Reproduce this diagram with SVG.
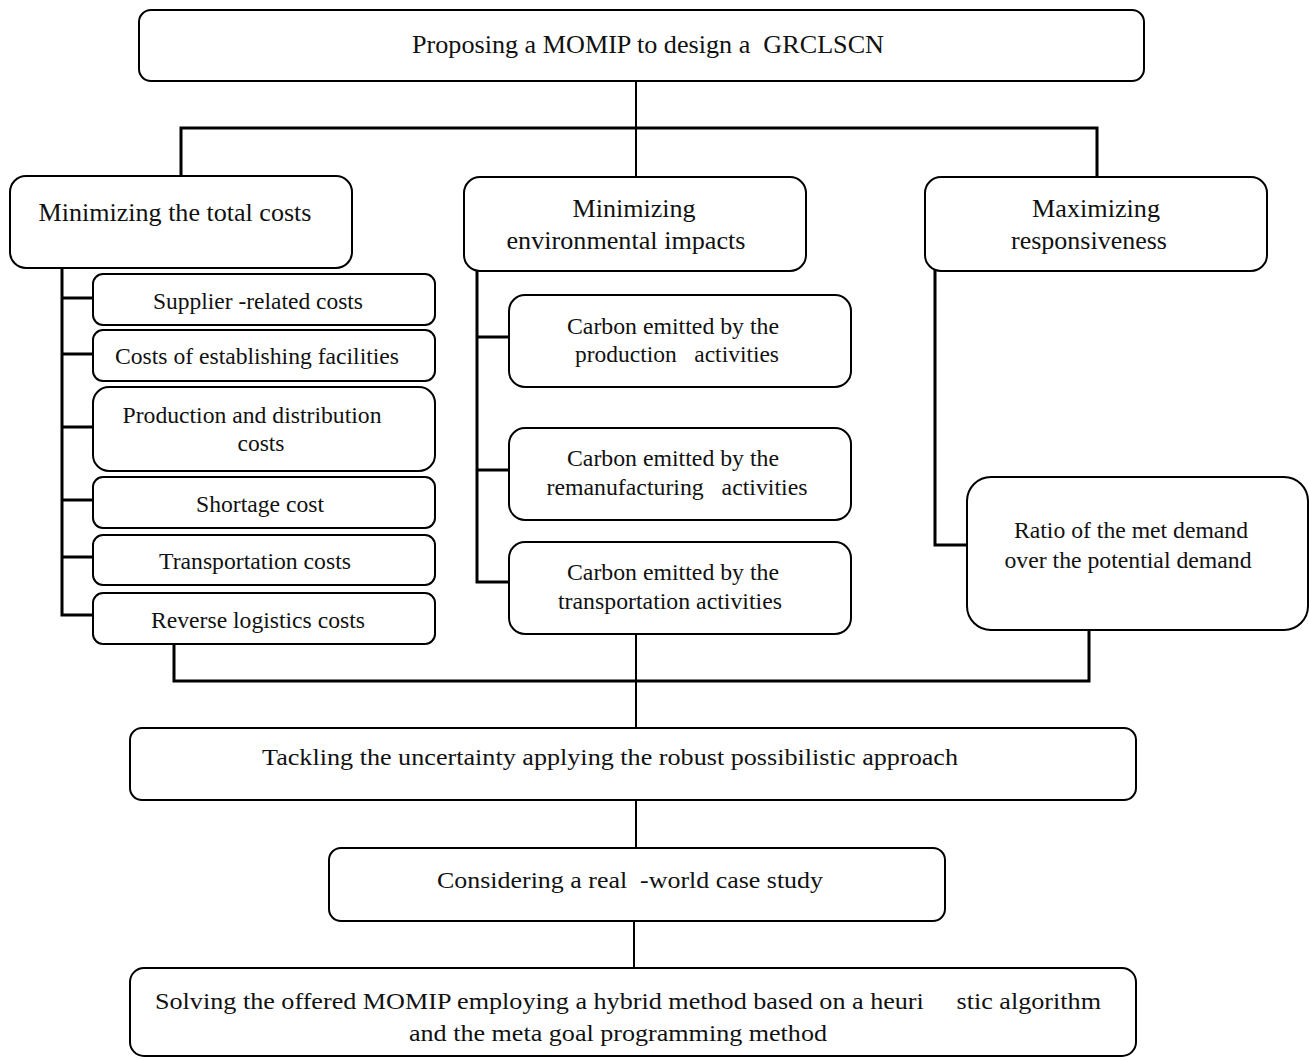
<svg xmlns="http://www.w3.org/2000/svg" width="1309" height="1060" viewBox="0 0 1309 1060">
<style>
.box{fill:#fff;stroke:#000;stroke-width:2}
.t{font-family:"Liberation Serif","Times New Roman",serif;fill:#111;text-anchor:middle;white-space:pre}
.h{font-size:26px}
.s{font-size:24px}
.c{fill:none;stroke:#000;stroke-width:3;stroke-linecap:square}
.c2{fill:none;stroke:#000;stroke-width:2}
</style>
<rect width="1309" height="1060" fill="#fff"/>
<g id="connectors">
<path class="c2" d="M636 81V128"/>
<path class="c" d="M181 176V128H1097V178"/>
<path class="c2" d="M636 128V178"/>
<path class="c" d="M62 268V615H93M62 298H93M62 354H93M62 427H93M62 500H93M62 557H93"/>
<path class="c" d="M477 271V582H509M477 337H509M477 470H509"/>
<path class="c" d="M935 271V545H967"/>
<path class="c" d="M174 644V681H1089V630"/>
<path class="c2" d="M636 634V728"/>
<path class="c2" d="M636 800V848"/>
<path class="c2" d="M634 921V968"/>
</g>
<g id="n-top"><rect class="box" x="139" y="10" width="1005" height="71" rx="12"/>
<text class="t h" x="648" y="53" textLength="472" lengthAdjust="spacingAndGlyphs">Proposing a MOMIP to design a  GRCLSCN</text></g>
<g id="n-cost"><rect class="box" x="10" y="176" width="342" height="92" rx="16"/>
<text class="t h" x="175" y="221" textLength="273" lengthAdjust="spacingAndGlyphs">Minimizing the total costs</text></g>
<g id="n-env"><rect class="box" x="464" y="177" width="342" height="94" rx="16"/>
<text class="t h" x="634" y="217" textLength="123" lengthAdjust="spacingAndGlyphs">Minimizing</text>
<text class="t h" x="626" y="249" textLength="239" lengthAdjust="spacingAndGlyphs">environmental impacts</text></g>
<g id="n-resp"><rect class="box" x="925" y="177" width="342" height="94" rx="16"/>
<text class="t h" x="1096" y="217" textLength="128" lengthAdjust="spacingAndGlyphs">Maximizing</text>
<text class="t h" x="1089" y="249" textLength="156" lengthAdjust="spacingAndGlyphs">responsiveness</text></g>
<g id="n-supplier"><rect class="box" x="93" y="274" width="342" height="51" rx="10"/>
<text class="t s" x="258" y="309" textLength="210" lengthAdjust="spacingAndGlyphs">Supplier -related costs</text></g>
<g id="n-establish"><rect class="box" x="93" y="330" width="342" height="51" rx="10"/>
<text class="t s" x="257" y="364" textLength="284" lengthAdjust="spacingAndGlyphs">Costs of establishing facilities</text></g>
<g id="n-production"><rect class="box" x="93" y="387" width="342" height="84" rx="16"/>
<text class="t s" x="252" y="423" textLength="259" lengthAdjust="spacingAndGlyphs">Production and distribution</text>
<text class="t s" x="261" y="451" textLength="47" lengthAdjust="spacingAndGlyphs">costs</text></g>
<g id="n-shortage"><rect class="box" x="93" y="477" width="342" height="51" rx="10"/>
<text class="t s" x="260" y="512" textLength="128" lengthAdjust="spacingAndGlyphs">Shortage cost</text></g>
<g id="n-transport"><rect class="box" x="93" y="535" width="342" height="50" rx="10"/>
<text class="t s" x="255" y="569" textLength="192" lengthAdjust="spacingAndGlyphs">Transportation costs</text></g>
<g id="n-reverse"><rect class="box" x="93" y="593" width="342" height="51" rx="10"/>
<text class="t s" x="258" y="628" textLength="214" lengthAdjust="spacingAndGlyphs">Reverse logistics costs</text></g>
<g id="n-cprod"><rect class="box" x="509" y="295" width="342" height="92" rx="16"/>
<text class="t s" x="673" y="334" textLength="212" lengthAdjust="spacingAndGlyphs">Carbon emitted by the</text>
<text class="t s" x="677" y="362" textLength="204" lengthAdjust="spacingAndGlyphs">production   activities</text></g>
<g id="n-creman"><rect class="box" x="509" y="428" width="342" height="92" rx="16"/>
<text class="t s" x="673" y="466" textLength="212" lengthAdjust="spacingAndGlyphs">Carbon emitted by the</text>
<text class="t s" x="677" y="495" textLength="261" lengthAdjust="spacingAndGlyphs">remanufacturing   activities</text></g>
<g id="n-ctrans"><rect class="box" x="509" y="542" width="342" height="92" rx="16"/>
<text class="t s" x="673" y="580" textLength="212" lengthAdjust="spacingAndGlyphs">Carbon emitted by the</text>
<text class="t s" x="670" y="609" textLength="224" lengthAdjust="spacingAndGlyphs">transportation activities</text></g>
<g id="n-ratio"><rect class="box" x="967" y="477" width="341" height="153" rx="24"/>
<text class="t s" x="1131" y="538" textLength="234" lengthAdjust="spacingAndGlyphs">Ratio of the met demand</text>
<text class="t s" x="1128" y="568" textLength="247" lengthAdjust="spacingAndGlyphs">over the potential demand</text></g>
<g id="n-tackle"><rect class="box" x="130" y="728" width="1006" height="72" rx="12"/>
<text class="t s" x="610" y="765" textLength="696" lengthAdjust="spacingAndGlyphs">Tackling the uncertainty applying the robust possibilistic approach</text></g>
<g id="n-case"><rect class="box" x="329" y="848" width="616" height="73" rx="12"/>
<text class="t s" x="630" y="888" textLength="386" lengthAdjust="spacingAndGlyphs">Considering a real  -world case study</text></g>
<g id="n-solve"><rect class="box" x="130" y="968" width="1006" height="88" rx="14"/>
<text class="t s" x="628" y="1009" textLength="946" lengthAdjust="spacingAndGlyphs">Solving the offered MOMIP employing a hybrid method based on a heuri     stic algorithm</text>
<text class="t s" x="618" y="1041" textLength="418" lengthAdjust="spacingAndGlyphs">and the meta goal programming method</text></g>
</svg>
